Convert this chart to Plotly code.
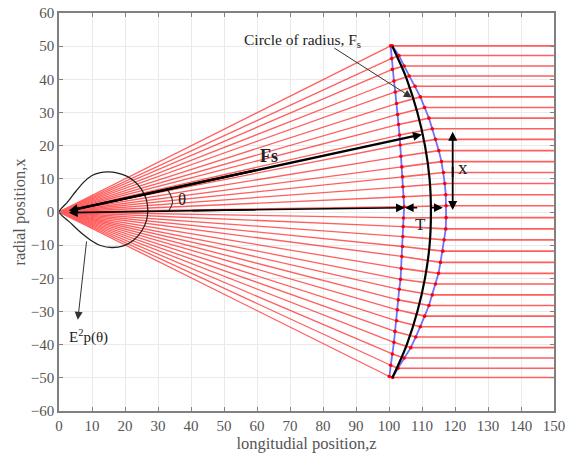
import plotly.graph_objects as go

outer_z = [101.0,103.0,104.6,106.1,107.9,109.5,110.8,112.1,113.1,114.1,115.1,115.9,116.5,116.9,117.2,117.3,
           117.3,117.2,116.7,116.3,115.6,115.0,114.1,113.1,112.1,110.8,109.5,108.1,106.6,104.6,102.7,101.1]
outer_x = [50.1,47.2,44.0,41.0,37.9,34.7,31.5,28.3,25.1,21.9,18.5,15.2,11.9,8.6,5.2,1.9,
           -1.7,-5.1,-8.4,-11.8,-15.2,-18.5,-21.7,-25.0,-28.2,-31.4,-34.6,-37.7,-40.9,-44.0,-47.1,-49.9]
inner_z = [100.5,100.8,101.0,101.5,101.9,102.3,102.6,102.9,103.2,103.4,103.6,103.9,104.1,104.2,104.4,104.6,
           104.4,104.3,104.2,104.1,103.9,103.7,103.5,103.1,102.8,102.5,102.3,101.8,101.5,101.0,100.5,100.1]
inner_x = [50.1,46.3,43.0,39.5,36.2,32.7,29.4,26.4,23.2,20.2,16.8,13.6,10.6,7.6,4.6,1.6,
           -1.8,-4.4,-7.4,-10.4,-13.4,-17.0,-20.3,-23.3,-26.5,-29.5,-32.8,-36.0,-39.3,-42.8,-46.2,-49.6]
circle_z = [101.0,103.3,105.4,108.6,110.9,112.3,112.7,112.3,110.9,108.6,105.4,103.3,101.0]
circle_x = [50,45,40,30,20,10,0,-10,-20,-30,-40,-45,-50]
pattern_z = [0,2.5,5,7.5,10,12.5,15,17.5,20.5,23,25,26.4,26.9,26.5,25,22.5,19.5,16,12.6,9.6,6.6,3.4,0]
pattern_x = [0,2.9,6.1,9.0,11.0,11.9,12.1,11.8,10.8,9.1,6.8,4.0,0.6,-2.6,-5.8,-8.6,-10.2,-10.7,-10.1,-8.5,-6.2,-3.2,0]
theta_arc_z = [33.0,34.4,33.2]
theta_arc_x = [6.6,3.1,0.3]
ticks_z = list(range(0,151,10))
ticks_x = list(range(-60,61,10))
origin_z, origin_x, end_z = 0, 0, 150

RED = "#ff2a2a"
PINK = "#ff5f5f"
BLUE = "#7070ff"
SERIF = "Liberation Serif"

fig = go.Figure()

ray_z, ray_x = [], []
for z, x in zip(inner_z, inner_x):
    ray_z += [origin_z, z, None]
    ray_x += [origin_x, x, None]
fig.add_trace(go.Scatter(x=ray_z, y=ray_x, mode="lines", line=dict(color=RED, width=1.3), opacity=0.75, hoverinfo="skip"))

seg_z, seg_x = [], []
for zi, xi, zo, xo in zip(inner_z, inner_x, outer_z, outer_x):
    seg_z += [zi, zo, end_z, None]
    seg_x += [xi, xo, xo, None]
fig.add_trace(go.Scatter(x=seg_z, y=seg_x, mode="lines", line=dict(color=PINK, width=1.6), hoverinfo="skip"))

fig.add_trace(go.Scatter(x=inner_z, y=inner_x, mode="lines", line=dict(color=BLUE, width=1.8)))
fig.add_trace(go.Scatter(x=outer_z, y=outer_x, mode="lines", line=dict(color=BLUE, width=1.8)))
fig.add_trace(go.Scatter(x=inner_z+outer_z, y=inner_x+outer_x, mode="markers", marker=dict(color="#ff0000", size=3.6)))
fig.add_trace(go.Scatter(x=circle_z, y=circle_x, mode="lines", line=dict(color="black", width=2.2, shape="spline")))
fig.add_trace(go.Scatter(x=pattern_z, y=pattern_x, mode="lines", line=dict(color="#222222", width=1.3, shape="spline", smoothing=0.6), cliponaxis=False))
fig.add_trace(go.Scatter(x=theta_arc_z, y=theta_arc_x, mode="lines", line=dict(color="#333333", width=1.1, shape="spline")))

def arrow(z0, x0, z1, x1, w=2.0, size=1.0, color="black"):
    fig.add_annotation(x=z1, y=x1, ax=z0, ay=x0, xref="x", yref="y", axref="x", ayref="y", text="",
                       showarrow=True, arrowhead=2, arrowsize=size, arrowwidth=w, arrowcolor=color)

arrow(3, 0.4, 110, 23.4, 2.4, 0.75)
arrow(60, 12.65, 3, 0.4, 2.4, 0.75)
arrow(40, 0.4, 104.8, 1.3, 1.6, 1.1)
arrow(60, 0.7, 3, -0.2, 1.6, 1.1)
arrow(112, 1.3, 116.3, 1.3, 1.6, 1.1)
arrow(109, 1.3, 104.8, 1.3, 1.6, 1.1)
arrow(119.3, 10, 119.3, 24.2, 1.8, 1.0)
arrow(119.3, 14, 119.3, 0.6, 1.8, 1.0)
arrow(83, 49.7, 106.9, 34.5, 1.0, 1.6, "#333333")
arrow(8.4, -8.4, 5.7, -32.5, 1.0, 1.6, "#333333")

def label(z, x, text, size, color="#222222"):
    fig.add_annotation(x=z, y=x, xref="x", yref="y", text=text, showarrow=False,
                       font=dict(family=SERIF, size=size, color=color))

label(73.8, 51.8, "Circle of radius, F<sub>s</sub>", 15.5, "#222222")
label(63.6, 16.9, "<b>Fs</b>", 18)
label(37.3, 3.9, "θ", 17)
label(122.5, 13.5, "x", 19)
label(109.5, -3.7, "T", 17)
label(9, -37.4, "E<sup>2</sup>p(θ)", 15)

axis = dict(showline=True, linecolor="#808080", linewidth=1.5, mirror="ticks", ticks="inside", ticklen=4,
            tickcolor="#808080", gridcolor="#eaeaea", gridwidth=1, zeroline=False, automargin=False,
            tickfont=dict(family=SERIF, size=15, color="#555555"))
fig.update_xaxes(range=[0,150], tickvals=ticks_z, title=dict(text="longitudial position,z", font=dict(family=SERIF, size=16.5, color="#555555"), standoff=3), **axis)
fig.update_yaxes(range=[-60,60], tickvals=ticks_x, title=dict(text="radial position,x", font=dict(family=SERIF, size=16.5, color="#555555"), standoff=1), **axis)
fig.update_layout(width=567, height=456, margin=dict(l=59, r=13, t=13, b=45), showlegend=False,
                  paper_bgcolor="white", plot_bgcolor="white")
fig.write_html("out.html", config=dict(displayModeBar=False),
               post_script="document.body.style.margin='0';document.body.style.overflow='hidden';")
